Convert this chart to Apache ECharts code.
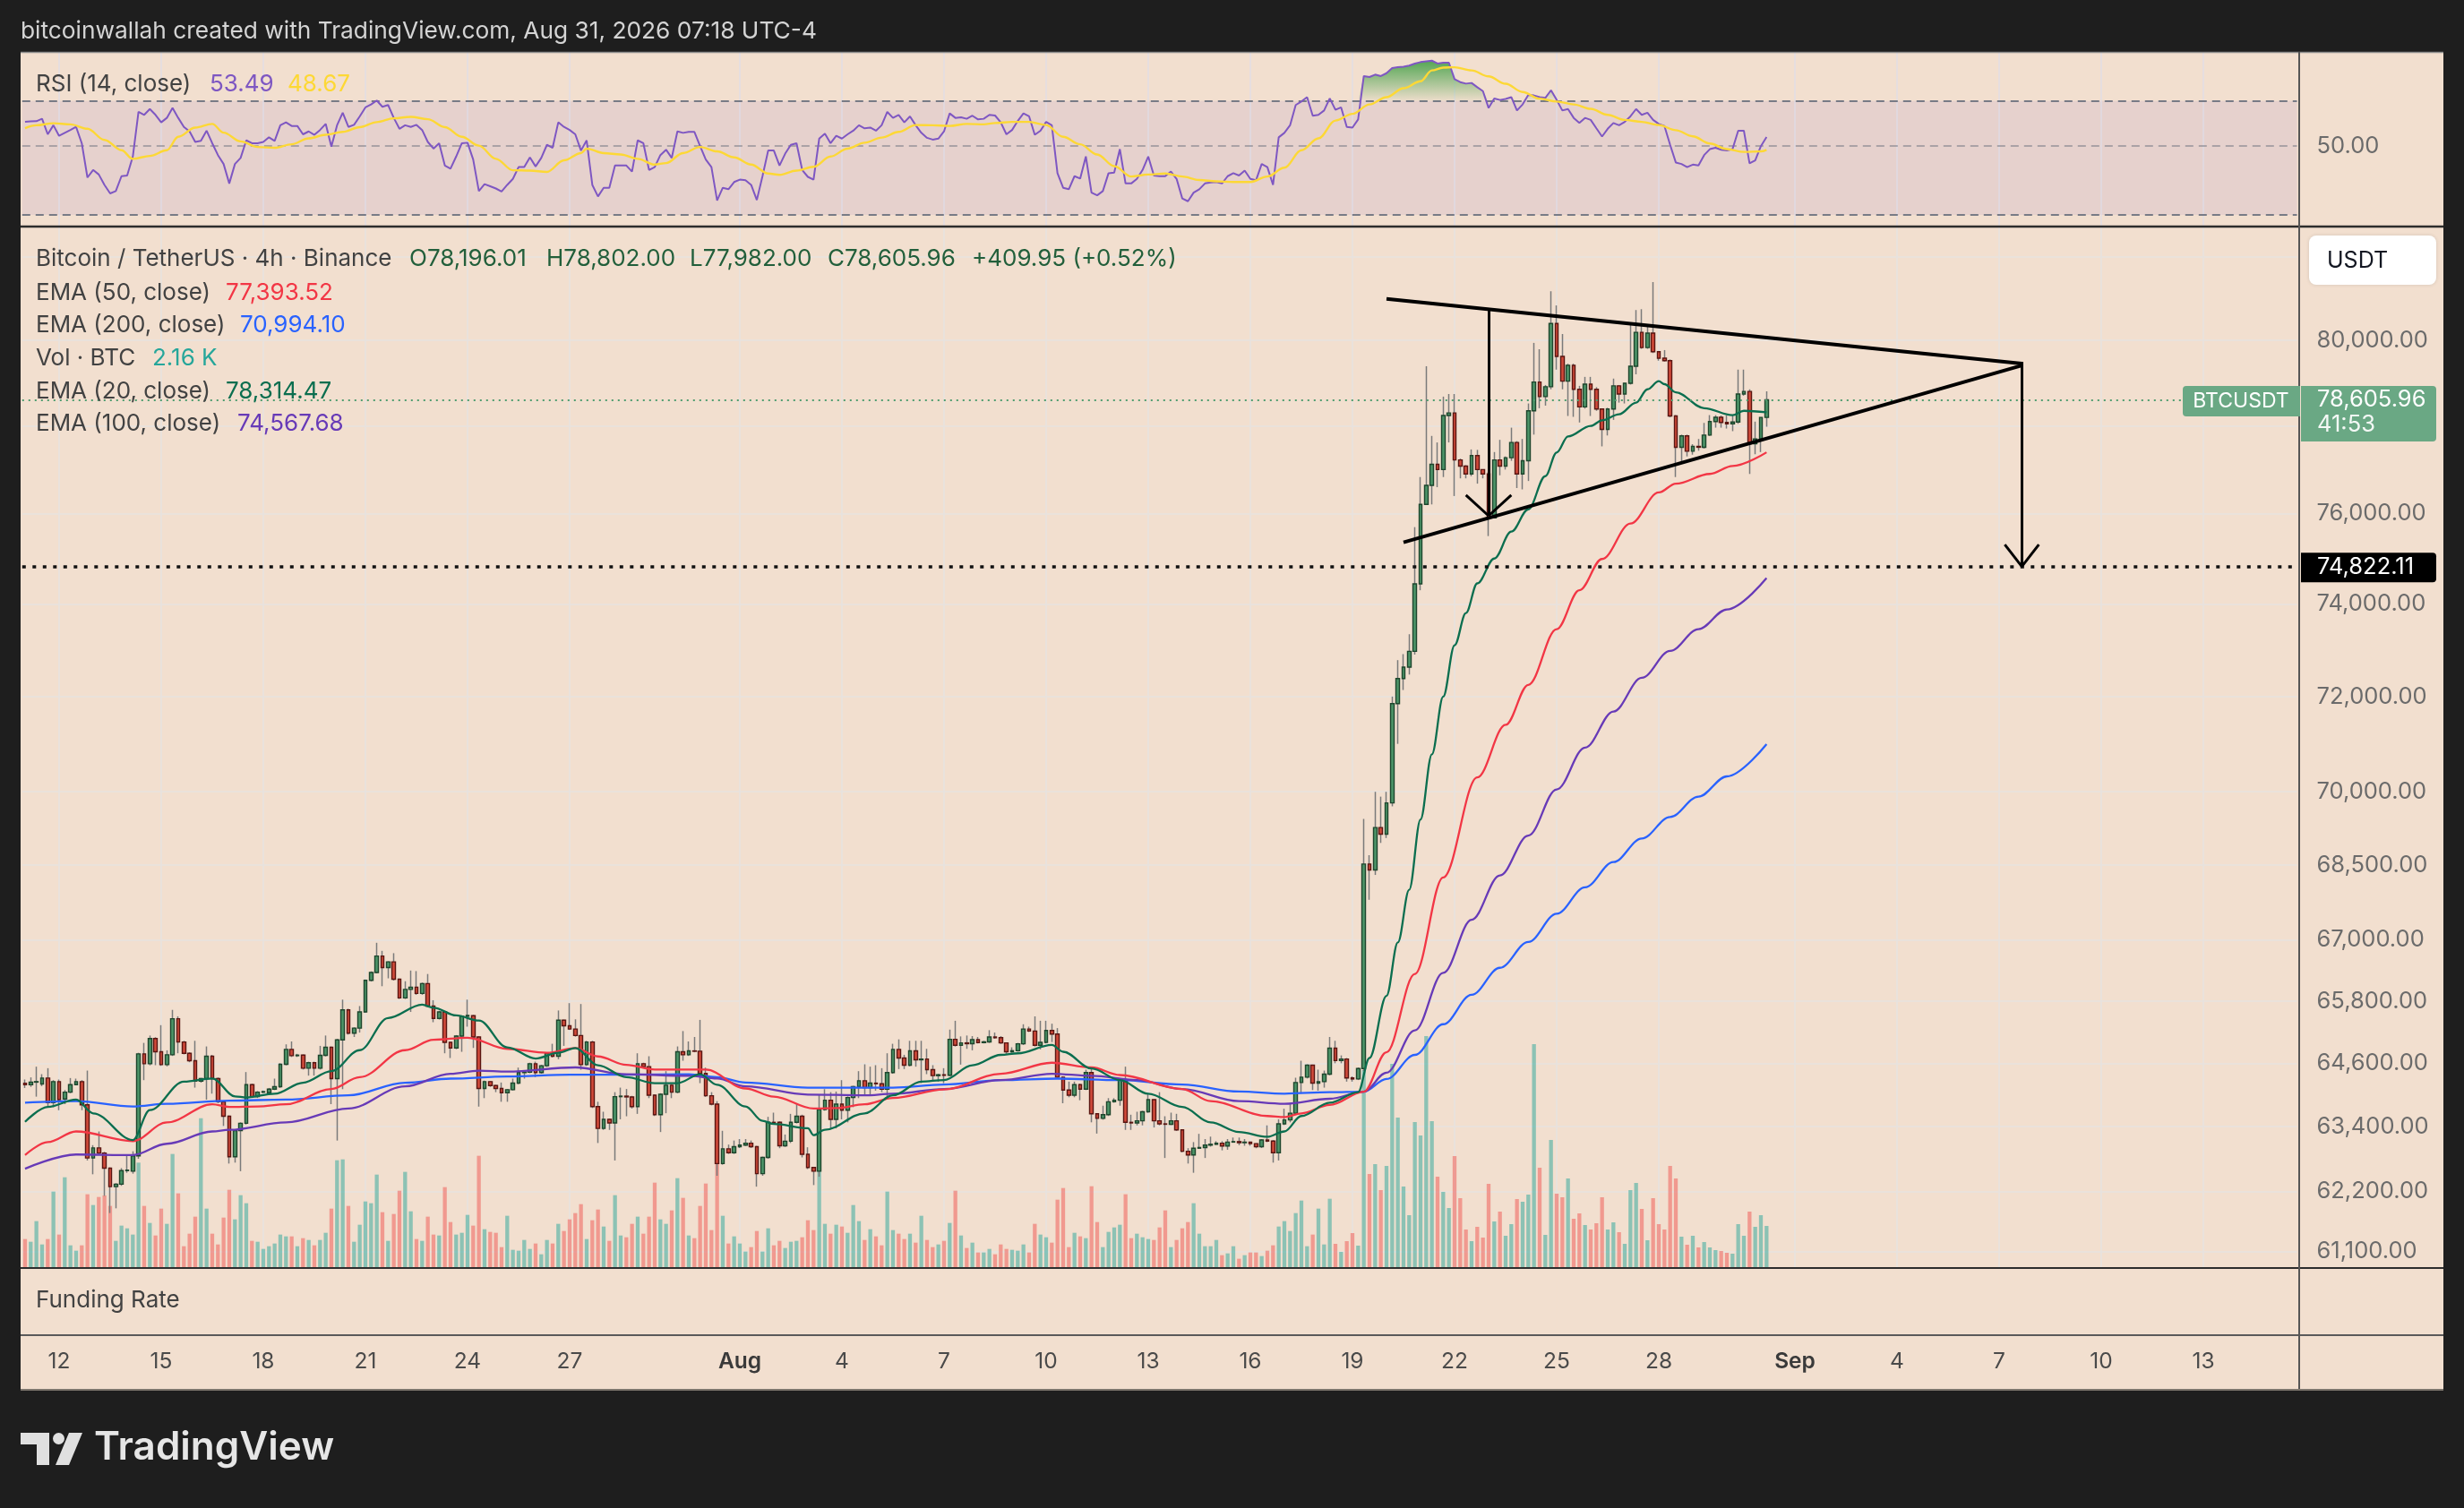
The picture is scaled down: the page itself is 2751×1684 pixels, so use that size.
<!DOCTYPE html>
<html><head><meta charset="utf-8">
<script src="https://cdn.jsdelivr.net/npm/echarts@6/dist/echarts.min.js"></script>
<style>html,body{margin:0;padding:0;background:#1e1e1e;}#c{width:2751px;height:1684px;}</style>
</head><body><div id="c"></div>
<script>
// ---------------- DATA ----------------
const startUTC = Date.UTC(2026, 6, 11, 0, 0); // first 4h candle
const slotCount = 401;                          // candle slots incl. empty future space
const xTickLabels = [['07-12','12'],['07-15','15'],['07-18','18'],['07-21','21'],['07-24','24'],['07-27','27'],
  ['08-01','Aug'],['08-04','4'],['08-07','7'],['08-10','10'],['08-13','13'],['08-16','16'],['08-19','19'],
  ['08-22','22'],['08-25','25'],['08-28','28'],['09-01','Sep'],['09-04','4'],['09-07','7'],['09-10','10'],['09-13','13']];
const priceTicks = [61100,62200,63400,64600,65800,67000,68500,70000,72000,74000,76000,80000];
const priceGridLines = [61100,62200,63400,64600,65800,67000,68500,70000,72000,74000,76000,78000,80000,82000];
const rsiLevels = [70, 50, 30];

const opens = [64220,64190,64240,64204,64318,63851,64250,63920,64050,64193,
64250,63811,62815,63003,62906,62627,62285,62331,62581,62570,
62855,64779,64591,65075,64819,64574,64762,65457,65007,64791,
64648,64261,64307,64734,64307,63868,63595,62838,63327,63464,
64193,63965,64050,64040,64107,64153,64580,64865,64745,64755,
64506,64609,64506,64751,64905,64307,65047,65628,65178,65275,
65588,66203,66357,66681,66453,66567,66226,65861,66026,66070,
65947,66140,65702,65463,65588,65001,64893,65121,65503,65515,
65104,64119,64250,64176,64119,64040,64096,64221,64421,64430,
64591,64421,64552,64791,64734,65428,65320,65258,65132,64574,
65007,63777,63367,63538,63470,63965,63975,63960,63777,64591,
64535,63993,63624,64011,64181,64050,64819,64762,64836,64830,
64404,63982,63823,62712,62986,62912,63026,63055,63090,63026,
62524,62826,63481,63481,63043,63128,63481,63595,62883,62638,
62570,63720,63897,63538,63823,63709,63948,64153,64267,64136,
64221,64210,64107,64421,64865,64700,64563,64836,64666,64680,
64478,64364,64380,64370,65058,64944,64990,64975,65053,64996,
65010,65104,65090,64990,64819,64840,64973,65258,65218,64944,
65001,65229,65161,64335,64090,63993,64193,64107,64421,63641,
63555,63624,63868,63897,64278,63481,63470,63510,63680,63908,
63510,63452,63445,63510,63339,62940,62872,62997,63010,63054,
63070,63090,63037,63111,63120,63100,63110,63082,63026,63151,
63130,62912,63452,63527,63652,64233,64335,64563,64221,64250,
64392,64888,64650,64680,64320,64300,64500,68520,68400,69265,
69130,69770,71850,72385,72630,72970,74440,76210,76640,77120,
77000,78240,78300,77220,77080,76900,77320,77000,76900,75910,
77220,77080,77270,77620,76900,77200,78350,79020,78680,78910,
80400,79620,79040,79410,78850,78440,78970,78850,78390,77920,
78390,78930,78740,78990,79390,80190,79830,80170,79730,79580,
79520,78230,77510,77770,77420,77530,77510,77790,78100,78200,
78080,78050,78090,78740,78800,77590,77700,78196.01];

const highs = [64290,64330,64535,64392,64506,64278,64290,64090,64318,64307,
64278,64460,63054,63310,62930,62640,62350,62627,62883,62940,
64800,64990,65132,65100,65332,64848,65628,65503,65030,64810,
65030,64320,64922,64760,64330,63890,63610,63340,63480,64432,
64210,64070,64080,64130,64307,64600,64962,65018,64780,64770,
64630,64630,64933,65132,64920,65070,65827,65650,65290,65702,
66220,66380,66943,66784,66580,66738,66240,66186,66396,66385,
66160,66328,65816,65610,65600,65010,65140,65520,65827,65530,
65120,64270,64260,64190,64233,64110,64307,64517,64450,64610,
64631,64570,64810,64973,65616,65440,65759,65445,65742,65030,
65030,63868,63680,63550,64050,64136,64110,63980,64791,64610,
64734,64010,64030,64449,64200,64922,65218,65018,65104,65434,
64517,64050,63880,63322,63065,63140,63168,63168,63140,63040,
62840,63584,63663,63500,63253,63640,63834,63624,63014,62650,
64005,64107,64050,64062,64278,63970,64170,64449,64580,64535,
64563,64506,64791,64973,65058,64762,65030,65030,65030,64876,
64563,64400,64506,65246,65417,65115,65132,65121,65104,65030,
65235,65189,65121,65000,64905,64990,65349,65303,65502,65417,
65417,65360,65275,64350,64250,64250,64210,64478,64535,63650,
63794,63937,63937,64300,64535,63624,63680,63697,64022,63920,
64050,63595,63663,63641,63350,62997,63111,63265,63168,63213,
63128,63128,63168,63196,63196,63168,63120,63090,63168,63424,
63150,63538,63737,63823,64324,64648,64580,64574,64478,64460,
65104,65030,64750,64700,64350,64520,69440,68700,70000,69900,
70000,72000,72780,72910,73340,75700,76830,79390,77770,77620,
78680,78740,78740,77250,77100,77460,77450,77000,76950,77400,
77680,77300,77960,77650,77700,78520,79940,79790,78950,81170,
80830,80150,79450,79450,78930,79140,79140,78900,78400,78420,
79100,78950,79000,80420,80720,80740,80320,81390,79750,79770,
79550,78250,77800,77800,77580,77700,78070,78250,78250,78240,
78240,78240,79310,79310,78850,78100,78150,78802];

const lows = [64130,64150,63965,64164,63766,63766,63709,63823,64030,64180,
63709,62769,62513,62880,62115,61801,61887,62300,62540,62524,
62800,64278,64560,64563,64550,64540,64740,64791,64770,64620,
64136,64230,63908,64022,63840,63413,62712,62729,62570,63440,
63940,63940,64030,64020,64090,64130,64560,64720,64720,64480,
64364,64364,64480,64730,63823,63140,64107,65150,65104,65189,
65570,66180,66340,66089,66243,66200,65840,65840,65588,65920,
65920,65680,65389,65440,64791,64700,64870,64819,65303,64893,
63777,63937,64150,64050,63868,63868,64080,64200,64307,64410,
64335,64400,64530,64710,64677,64933,65240,65110,64477,64550,
63750,63094,63340,63339,62769,63538,63595,63740,63640,64510,
63937,63600,63299,63652,63937,64030,64648,64740,64810,64221,
63960,63800,62485,62690,62890,62890,63000,63040,63000,62285,
62485,62800,63440,62997,63020,63094,63460,62826,62610,62314,
62468,63700,63367,63367,63538,63481,63766,63937,63993,64005,
64079,64050,63937,64400,64489,64489,64540,64535,64221,64392,
64250,64250,64221,64350,64920,64574,64876,64848,64980,64980,
64990,65070,64970,64779,64800,64820,64950,65200,64920,64865,
64980,65007,64320,63840,63954,63954,63897,64090,63481,63270,
63530,63600,63850,63794,63339,63339,63424,63424,63660,63384,
63424,62815,63430,63320,62920,62712,62541,62990,62815,63026,
63060,62957,62968,63100,63054,63043,63043,62997,63000,63110,
62729,62769,63430,63481,63630,64022,64310,64090,64079,64136,
64370,64600,64600,64250,64250,64280,64450,67800,68300,68950,
69050,69700,71000,72140,72470,72900,74300,76200,76210,76600,
76830,77620,76400,76800,76800,76850,76680,76800,75500,75900,
76870,77000,77200,76580,76550,76740,77800,78410,78470,78850,
79310,78850,78230,78210,78080,78400,78230,78350,77530,77780,
78140,78540,78520,78960,79200,79800,79800,79700,79520,79500,
78200,76830,77180,77300,77340,77430,77480,77770,77960,77960,
77940,77880,78050,78700,76900,77350,77400,77982];

const closes = [64190,64240,64250,64318,63851,64250,63908,64050,64193,64250,
63811,62815,63003,62906,62627,62285,62331,62581,62590,62855,
64779,64591,65075,64819,64574,64762,65457,65007,64791,64648,
64261,64307,64734,64307,63868,63595,62838,63327,63464,64193,
63965,64050,64060,64107,64153,64580,64865,64745,64755,64506,
64609,64506,64751,64905,64307,65047,65628,65178,65275,65588,
66203,66357,66681,66453,66567,66226,65861,66026,66070,65947,
66140,65702,65463,65588,65001,64893,65121,65503,65520,65104,
64119,64250,64176,64119,64040,64096,64221,64421,64430,64591,
64421,64552,64791,64734,65428,65320,65258,65132,64574,65007,
63777,63367,63538,63470,63965,63975,63960,63777,64591,64535,
63993,63624,64011,64181,64050,64819,64762,64836,64830,64404,
63982,63823,62712,62986,62912,63026,63055,63090,63026,62524,
62826,63481,63470,63043,63128,63481,63595,62883,62638,62570,
63720,63897,63538,63823,63709,63948,64153,64267,64136,64221,
64210,64107,64421,64865,64700,64563,64836,64666,64680,64478,
64364,64380,64370,65058,64944,64990,64975,65053,64996,65010,
65104,65090,64990,64819,64840,64973,65258,65218,64944,65001,
65229,65161,64335,64090,63993,64193,64107,64421,63641,63555,
63624,63868,63897,64278,63481,63470,63510,63680,63908,63510,
63452,63445,63510,63339,62940,62872,62997,63010,63054,63070,
63090,63037,63111,63120,63100,63110,63082,63026,63151,63130,
62912,63452,63527,63652,64233,64335,64563,64221,64250,64392,
64888,64650,64680,64320,64300,64500,68520,68400,69265,69130,
69770,71850,72385,72630,72970,74440,76210,76640,77120,77000,
78240,78300,77220,77080,76900,77320,77000,76900,75910,77220,
77080,77270,77620,76900,77200,78350,79020,78680,78910,80400,
79620,79040,79410,78850,78440,78970,78850,78390,77920,78390,
78930,78740,78990,79390,80190,79830,80170,79730,79580,79520,
78230,77510,77770,77420,77530,77510,77790,78100,78200,78080,
78050,78090,78740,78800,77590,77700,78196.01,78605.96];

const volumes = [1166,1054,1910,942,1166,3137,1352,3732,905,682,
905,3026,2579,2914,2976,2542,1091,1724,1612,1352,
4340,2542,1835,1314,2430,1798,4700,3063,868,1389,
2096,6188,2430,1389,942,2058,3212,1984,2988,2654,
1091,1054,756,868,980,1352,1277,1277,868,1203,
1128,905,1128,1426,2430,4439,4476,2542,1054,1761,
2728,2654,3844,2282,1091,2207,3174,3956,2319,1166,
1091,2096,1352,1314,3323,1872,1352,1426,2170,1724,
4625,1575,1463,1426,831,2133,719,682,1128,756,
980,533,1128,980,1798,1500,1984,2244,2616,1166,
1947,2393,1686,1091,2988,1314,1240,1798,2096,1389,
2096,3509,1984,1798,2356,3695,2877,1314,1203,2542,
3472,1538,4300,2133,980,1277,980,645,831,1500,
645,1612,905,1091,794,1054,1091,1240,1947,1538,
4000,1798,1389,1761,1686,1426,2579,1910,1128,1575,
1277,905,3137,1538,1389,1166,1389,1017,2133,1128,
831,942,1091,1835,3174,1314,794,1017,608,608,
756,533,942,756,719,682,942,608,1798,1352,
1240,1017,2802,3286,831,1426,1277,1203,3360,1872,
831,1463,1649,1761,3026,1203,1389,1240,1166,1128,
1649,2356,831,1128,1612,1872,2654,1389,868,868,
1128,496,570,868,347,496,608,608,459,682,
905,1686,1910,1500,2244,2765,868,1352,2430,942,
2840,967,632,1079,1414,893,8184,3869,4278,3200,
4204,8444,6212,3348,2158,6026,5468,9598,6064,3757,
3125,2455,4613,2864,1562,1079,1674,1228,3460,1897,
2306,1302,1786,2827,2716,3013,9263,4129,1339,5282,
3050,2902,3683,2009,2232,1748,1562,1823,2902,1562,
1860,1451,967,3199,3497,2418,1116,2864,1786,1562,
4204,3683,1265,930,1302,818,1042,818,707,670,
595,558,1786,1302,2306,1674,2158,1711];

const ema20 = [[0,63490],[4,63770],[9,63910],[12,63650],[19,63150],[22,63710],[28,64250],[33,64310],[37,63970],[39,63950],[44,64020],[49,64230],[54,64450],[59,64850],[64,65470],[70,65730],[72,65670],[76,65520],[80,65420],[85,64905],[90,64690],[94,64800],[97,64890],[101,64560],[106,64335],[111,64220],[115,64220],[119,64390],[122,64190],[127,63780],[130,63510],[132,63450],[138,63370],[139,63240],[141,63340],[148,63650],[153,63990],[158,64250],[162,64280],[167,64560],[172,64760],[175,64790],[181,64950],[183,64820],[188,64500],[193,64280],[198,64020],[204,63770],[209,63480],[214,63300],[219,63210],[222,63310],[225,63600],[230,63850],[235,64050],[237,64700],[240,65900],[242,66950],[244,68000],[246,69430],[248,70780],[250,72000],[252,73100],[254,73800],[256,74450],[259,75000],[262,75600],[265,76100],[268,76850],[270,77390],[272,77760],[276,78000],[278,78130],[281,78270],[284,78540],[286,78850],[288,79040],[289,78970],[291,78780],[296,78410],[301,78250],[303,78350],[307,78314.47]];
const ema50 = [[0,62870],[4,63110],[9,63310],[19,63130],[25,63480],[33,63820],[36,63770],[41,63780],[46,63820],[54,64110],[59,64335],[67,64850],[72,65050],[78,65090],[85,64876],[92,64800],[97,64890],[101,64730],[106,64570],[111,64480],[120,64480],[127,64120],[132,63965],[139,63740],[143,63750],[148,63820],[153,63940],[162,64100],[172,64400],[181,64610],[188,64520],[193,64375],[204,64110],[209,63880],[219,63600],[222,63580],[225,63650],[230,63810],[236,64060],[240,64810],[245,66330],[250,68250],[256,70300],[261,71400],[265,72250],[270,73450],[274,74300],[278,74990],[283,75780],[288,76480],[291,76680],[297,76900],[301,77080],[307,77393.52]];
const ema100 = [[0,62616],[9,62880],[19,62870],[25,63080],[33,63310],[36,63340],[46,63480],[57,63740],[67,64160],[75,64400],[80,64460],[85,64440],[97,64520],[106,64390],[117,64360],[122,64310],[127,64160],[138,64005],[148,63990],[153,64020],[162,64110],[172,64280],[181,64400],[188,64360],[196,64280],[204,64110],[214,63880],[222,63830],[230,63925],[236,64060],[240,64420],[245,65230],[250,66350],[255,67400],[260,68290],[265,69100],[270,70050],[275,70920],[280,71680],[285,72400],[290,72980],[295,73450],[300,73880],[307,74567.68]];
const ema200 = [[0,63850],[9,63880],[19,63780],[25,63830],[36,63890],[46,63910],[57,63990],[67,64230],[75,64307],[85,64347],[96,64380],[106,64380],[117,64390],[122,64335],[127,64233],[138,64136],[153,64136],[162,64193],[172,64278],[182,64307],[193,64278],[204,64193],[214,64062],[222,64022],[230,64050],[236,64060],[240,64300],[245,64760],[250,65350],[255,65920],[260,66450],[265,66960],[270,67520],[275,68050],[280,68560],[285,69040],[290,69480],[295,69900],[300,70320],[307,70994.10]];

const rsi = [59.9,60.1,60.2,61.3,54.6,58.4,54.0,55.2,56.4,57.7,
51.1,39.6,41.9,40.5,37.5,35.2,35.8,40.0,40.2,46.3,
64.5,63.1,65.9,63.1,59.7,61.7,66.4,61.7,57.7,55.8,
51.6,52.0,56.1,51.1,46.8,43.8,37.9,43.8,45.8,52.2,
51.1,51.1,51.6,53.4,52.0,58.4,59.7,58.1,58.1,54.6,
55.8,54.4,56.4,59.0,49.8,58.4,64.1,57.7,58.6,62.4,
66.7,68.2,70.2,67.0,67.9,61.7,56.9,58.4,57.7,58.6,
56.4,51.6,49.1,51.1,43.3,42.3,46.3,51.1,51.3,45.3,
35.8,37.7,37.1,36.5,35.7,37.5,39.2,42.8,42.8,46.0,
43.0,45.8,50.5,49.4,59.7,57.7,56.4,54.6,48.4,52.2,
37.5,34.4,36.7,36.7,43.3,43.3,43.3,41.4,52.2,51.1,
41.9,42.8,46.8,48.7,45.8,55.8,55.2,55.6,55.6,50.0,
45.3,42.8,33.4,36.7,36.3,38.3,39.0,38.8,37.5,33.5,
40.0,48.4,48.4,43.3,47.3,50.5,51.1,41.9,39.8,39.0,
52.9,54.9,51.1,54.0,52.9,54.6,56.1,58.4,57.1,57.4,
56.1,58.4,64.5,61.7,63.1,59.7,62.4,58.4,55.2,53.2,
52.5,52.9,55.8,63.8,61.7,62.0,61.3,62.7,61.0,61.3,
63.1,62.8,59.7,54.6,56.4,60.3,63.8,62.4,54.4,56.1,
59.9,58.4,40.9,36.7,36.3,40.0,39.3,46.3,35.4,34.7,
35.8,40.9,41.1,48.9,37.9,37.9,39.2,41.9,46.3,40.2,
40.0,40.0,41.4,39.2,33.9,33.2,35.4,36.3,37.9,38.2,
38.3,37.9,40.0,40.9,40.2,41.7,39.2,38.8,43.8,42.8,
37.5,53.4,55.2,58.4,67.9,69.7,72.0,62.7,63.1,65.2,
71.3,65.5,66.7,57.7,57.4,61.0,84.2,83.6,85.1,84.2,
86.0,89.4,90.0,90.2,91.0,92.4,93.4,94.0,94.4,92.4,
93.0,93.0,82.3,80.5,79.6,80.0,77.5,75.3,66.4,71.3,
70.5,71.0,72.0,65.2,68.2,73.2,72.9,72.0,71.6,75.8,
70.5,65.2,65.9,61.7,59.4,61.7,60.8,57.1,53.7,56.9,
59.4,58.4,59.9,62.4,65.9,63.1,64.1,60.8,59.0,58.1,
50.5,44.3,43.8,42.8,43.6,43.3,46.8,48.9,49.4,48.7,
48.4,48.9,56.1,56.1,44.0,45.0,50.0,53.49];
const rsiMa = [[0,57.2],[2,58.4],[5,59.3],[8,58.8],[11,56.9],[14,52.4],[17,48.5],[19,45.5],[22,46.5],[25,48.5],[27,53.6],[30,57.4],[33,59.0],[35,55.3],[38,51.8],[41,49.7],[44,49.4],[47,50.7],[50,53.0],[53,54.4],[56,55.6],[59,57.6],[62,59.8],[65,61.5],[68,62.2],[71,61.1],[74,57.6],[77,53.6],[80,50.2],[83,45.5],[86,41.8],[89,41.7],[92,41.3],[95,45.0],[98,47.5],[99,49.1],[102,47.5],[105,47.0],[108,45.5],[111,43.6],[113,44.1],[116,47.5],[119,49.7],[122,48.1],[125,46.0],[128,43.6],[131,40.8],[133,40.4],[136,41.7],[139,42.9],[142,46.3],[145,49.1],[148,51.3],[151,53.3],[154,55.6],[157,58.5],[160,58.4],[163,58.1],[166,59.0],[169,58.8],[171,59.4],[174,59.9],[177,59.9],[180,58.5],[183,53.6],[186,50.7],[189,47.0],[192,43.1],[195,39.9],[198,40.5],[201,40.8],[204,39.9],[207,38.9],[210,38.5],[213,38.3],[216,38.3],[219,39.9],[222,42.6],[225,48.5],[228,53.0],[231,60.5],[234,63.6],[237,68.2],[240,72.0],[243,76.9],[246,81.0],[248,87.8],[250,89.7],[252,89.9],[255,87.8],[258,84.0],[261,79.5],[264,74.8],[267,71.2],[270,69.7],[273,68.2],[276,66.0],[279,63.1],[282,60.8],[285,59.9],[288,58.5],[291,56.3],[294,53.8],[297,51.0],[300,48.9],[303,47.9],[306,48.1],[307,48.67]];

// drawn annotations in data coordinates: [candle index, price]
const trendUpper = [[240,80989],[352,79451]];
const trendLower = [[243,75362],[352,79409]];
const poleLine = [[258,80705],[258,75954]];
const poleHeadL = [[254,76422],[258,75954]];
const poleHeadR = [[262,76422],[258,75954]];
const targetPrice = 74822.11;
const targetLine = [[352,79493],[352,targetPrice]];
const targetHeadL = [[349,75310],[352,targetPrice]];
const targetHeadR = [[355,75310],[352,targetPrice]];

// ---------------- BUILD ----------------
const pad = n => String(n).padStart(2,'0');
const categories = [];
for (let i = 0; i < slotCount; i++) {
  const d = new Date(startUTC + i * 4 * 3600 * 1000);
  categories.push(pad(d.getUTCMonth()+1) + '-' + pad(d.getUTCDate()) + ' ' + pad(d.getUTCHours()));
}
const labelAt = {};
xTickLabels.forEach(([md, t]) => { const k = categories.indexOf(md + ' 00'); if (k >= 0) labelAt[k] = t; });
const tickIdx = Object.keys(labelAt).map(Number);

const FONT = 'Inter, "Noto Sans", sans-serif';
const BG = '#f2dfcf';
const GRIDC = '#e7e3df';
const fmt = v => { const s = v.toFixed(2).split('.'); return s[0].replace(/\B(?=(\d{3})+(?!\d))/g, ',') + '.' + s[1]; };

const n = closes.length;
const candleData = [], bodyData = [], volData = [];
for (let i = 0; i < n; i++) {
  const o = opens[i], c = closes[i];
  const h = Math.max(highs[i], o, c), l = Math.min(lows[i], o, c);
  candleData.push([o, c, l, h]);
  bodyData.push([o, c, Math.min(o, c), Math.max(o, c)]);
  volData.push({ value: volumes[i], itemStyle: { color: c >= o ? 'rgba(38,166,154,0.5)' : 'rgba(239,83,80,0.5)' } });
}
const obBase = rsi.map(() => 70);
const obFill = rsi.map(v => Math.max(v, 70) - 70);

const GL = 24.8, GW = 2539.7;
const lineMk = (pts, w) => [{ coord: pts[0], lineStyle: { width: w, color: '#000', type: 'solid' } }, { coord: pts[1] }];
const mkBase = { silent: true, symbol: ['none','none'], label: { show: false }, emphasis: { disabled: true }, animation: false };
const AXF = 25.5;

const chart = echarts.init(document.getElementById('c'), null, { renderer: 'canvas' });
const option = {
  animation: false,
  backgroundColor: '#1e1e1e',
  textStyle: { fontFamily: FONT },
  grid: [
    { left: GL, top: 59, width: GW, height: 193, outerBoundsMode: 'none' },
    { left: GL, top: 254, width: GW, height: 1161, outerBoundsMode: 'none' },
    { left: GL, top: 1417, width: GW, height: 73, outerBoundsMode: 'none' }
  ],
  xAxis: [0,1,2].map(g => ({
    type: 'category', gridIndex: g, data: categories, boundaryGap: true,
    axisLine: { show: false }, axisTick: { show: false }, splitLine: { show: false },
    axisLabel: g === 2 ? {
      show: true, margin: 18, fontSize: 24.5, color: '#4a4a4a', fontFamily: FONT,
      interval: (idx) => labelAt[idx] !== undefined,
      formatter: (val, idx) => { const t = labelAt[idx]; return /[A-Za-z]/.test(t) ? '{m|' + t + '}' : t; },
      rich: { m: { fontWeight: 600, fontSize: 24.5, color: '#3a3a3a', fontFamily: FONT } }
    } : { show: false }
  })),
  yAxis: [
    { type: 'log', gridIndex: 0, min: 27.69, max: 100.07, position: 'right',
      axisLine: { show: false }, axisTick: { show: false }, splitLine: { show: false },
      axisLabel: { customValues: [50], margin: 22, fontSize: AXF, color: '#6b6b6b', fontFamily: FONT, formatter: v => fmt(v) } },
    { type: 'log', gridIndex: 1, min: 60820, max: 82716, position: 'right',
      axisLine: { show: false }, axisTick: { show: false }, splitLine: { show: false },
      axisLabel: { customValues: priceTicks, margin: 22, fontSize: AXF, color: '#6b6b6b', fontFamily: FONT, formatter: v => fmt(v) } },
    { type: 'value', gridIndex: 1, min: 0, max: 43190, show: false, splitLine: { show: false } },
    { type: 'value', gridIndex: 2, show: false, splitLine: { show: false } }
  ],
  series: [
    // RSI pane grid, band and levels
    { type: 'line', xAxisIndex: 0, yAxisIndex: 0, data: [], silent: true,
      markArea: { silent: true, z: 1, itemStyle: { color: 'rgba(126,87,194,0.10)' }, data: [[{ yAxis: 30 }, { yAxis: 70 }]] },
      markLine: Object.assign({}, mkBase, { z: 2, data: [
        ...tickIdx.map(i => ({ xAxis: i, lineStyle: { color: 'rgba(222,222,235,0.75)', width: 1.5, type: 'solid' } })),
        ...rsiLevels.map(v => ({ yAxis: v, lineStyle: { color: v === 50 ? 'rgba(120,123,134,0.55)' : '#787b86', width: 2, type: [9, 6] } }))
      ] }) },
    { type: 'line', xAxisIndex: 0, yAxisIndex: 0, data: obBase, stack: 'ob', symbol: 'none', silent: true, z: 2,
      lineStyle: { width: 0, opacity: 0 } },
    { type: 'line', xAxisIndex: 0, yAxisIndex: 0, data: obFill, stack: 'ob', symbol: 'none', silent: true, z: 2,
      lineStyle: { width: 0, opacity: 0 },
      areaStyle: { opacity: 1, color: new echarts.graphic.LinearGradient(0, 0, 0, 1, [
        { offset: 0, color: 'rgba(67,160,71,0.9)' }, { offset: 1, color: 'rgba(67,160,71,0.03)' }]) } },
    { name: 'RSI', type: 'line', xAxisIndex: 0, yAxisIndex: 0, data: rsi, symbol: 'none', z: 3,
      lineStyle: { color: '#7e57c2', width: 2 } },
    { name: 'RSI MA', type: 'line', xAxisIndex: 0, yAxisIndex: 0, data: rsiMa, symbol: 'none', z: 3,
      smooth: 0.35, smoothMonotone: 'x', lineStyle: { color: '#fdd835', width: 2.4 } },

    // main pane grid lines
    { type: 'line', xAxisIndex: 1, yAxisIndex: 1, data: [], silent: true,
      markLine: Object.assign({}, mkBase, { z: 1, data: [
        ...priceGridLines.map(v => ({ yAxis: v, lineStyle: { color: GRIDC, width: 1.6, type: 'solid' } })),
        ...tickIdx.map(i => ({ xAxis: i, lineStyle: { color: GRIDC, width: 1.6, type: 'solid' } }))
      ] }) },
    { name: 'Vol', type: 'bar', xAxisIndex: 1, yAxisIndex: 2, data: volData, barWidth: 4.3, z: 2, silent: true },
    { type: 'candlestick', xAxisIndex: 1, yAxisIndex: 1, data: candleData, barWidth: 1, z: 3, silent: true, clip: false,
      itemStyle: { color: '#7a7a7a', color0: '#7a7a7a', borderColor: '#7a7a7a', borderColor0: '#7a7a7a', borderColorDoji: '#7a7a7a', borderWidth: 1.5 } },
    { type: 'candlestick', xAxisIndex: 1, yAxisIndex: 1, data: bodyData, barWidth: 4.2, z: 4, silent: true, clip: false,
      itemStyle: { color: '#4c9468', color0: '#d04a3a', borderColor: '#1e462d', borderColor0: '#5a1612', borderColorDoji: '#3a2a20', borderWidth: 1.4 } },
    ...[[ema200, '#2962ff'], [ema100, '#673ab7'], [ema50, '#f23645'], [ema20, '#0b6e4f']].map(([d, col]) => ({
      type: 'line', xAxisIndex: 1, yAxisIndex: 1, data: d, symbol: 'none', z: 5, silent: true,
      smooth: 0.35, smoothMonotone: 'x', lineStyle: { color: col, width: 2.3 }
    })),
    // drawings
    { type: 'line', xAxisIndex: 1, yAxisIndex: 1, data: [], silent: true,
      markLine: Object.assign({}, mkBase, { z: 10, data: [
        { yAxis: closes[n-1], lineStyle: { color: '#4f9d70', width: 1.8, type: [2, 5] } },
        { yAxis: targetPrice, lineStyle: { color: '#111', width: 3.5, type: [4, 7.5] } },
        lineMk(trendUpper, 4), lineMk(trendLower, 4),
        lineMk(poleLine, 3), lineMk(poleHeadL, 3), lineMk(poleHeadR, 3),
        lineMk(targetLine, 3), lineMk(targetHeadL, 3), lineMk(targetHeadR, 3)
      ] }) }
  ]
};
chart.setOption(option);

// ---------------- OVERLAY TEXT / FRAME ----------------
const yCur = chart.convertToPixel({ yAxisIndex: 1 }, closes[n-1]);
const yTgt = chart.convertToPixel({ yAxisIndex: 1 }, targetPrice);
const lastO = opens[n-1], lastH = highs[n-1], lastL = lows[n-1], lastC = closes[n-1];
const chg = lastC - closes[n-2];
const pct = chg / closes[n-2] * 100;
const lastOf = a => a[a.length-1][1];
const T = (x, y, text, fill, size, extra) => ({ type: 'text', x, y, z: 50, silent: true,
  style: Object.assign({ text, fill, font: (extra && extra.weight ? extra.weight + ' ' : '') + size + 'px ' + FONT, textVerticalAlign: 'middle', textAlign: 'left' }, extra && extra.style) });
const HL = (x1, y1, x2, y2, stroke, w) => ({ type: 'line', z: 40, silent: true, shape: { x1, y1, x2, y2 }, style: { stroke, lineWidth: w } });
const TXT = '#424242';
const UP = '#225f3b';
const LF = 26;

const graphics = [
  { type: 'rect', z: -100, silent: true, shape: { x: 23, y: 58, width: 2705, height: 1494 }, style: { fill: BG } },
  HL(23, 58.5, 2728, 58.5, '#8e8e8e', 1.5),
  HL(23, 253, 2728, 253, '#2d2d2d', 2.5),
  HL(23, 1416, 2728, 1416, '#2d2d2d', 2),
  HL(23, 1491, 2728, 1491, '#5a5a5a', 2),
  HL(2567, 58, 2567, 1552, '#555555', 2),
  HL(23, 1552, 2728, 1552, '#7d766d', 2),
  T(23, 35, 'bitcoinwallah created with TradingView.com, Aug 31, 2026 07:18 UTC-4', '#d4d4d4', 26.3),
  T(40, 94, 'RSI (14, close)', TXT, LF), T(234, 94, fmt(rsi[n-1]), '#7e57c2', LF), T(321, 94, fmt(lastOf(rsiMa)), '#fdd835', LF),
  T(40, 289, 'Bitcoin / TetherUS · 4h · Binance', TXT, LF),
  T(457, 289, 'O' + fmt(lastO), UP, LF), T(610, 289, 'H' + fmt(lastH), UP, LF),
  T(770, 289, 'L' + fmt(lastL), UP, LF), T(924, 289, 'C' + fmt(lastC), UP, LF),
  T(1085, 289, (chg >= 0 ? '+' : '') + fmt(chg) + ' (' + (pct >= 0 ? '+' : '') + pct.toFixed(2) + '%)', UP, LF),
  T(40, 327, 'EMA (50, close)', TXT, LF), T(252, 327, fmt(lastOf(ema50)), '#f23645', LF),
  T(40, 363, 'EMA (200, close)', TXT, LF), T(268, 363, fmt(lastOf(ema200)), '#2962ff', LF),
  T(40, 400, 'Vol · BTC', TXT, LF), T(170, 400, '2.16 K', '#26a69a', LF),
  T(40, 437, 'EMA (20, close)', TXT, LF), T(252, 437, fmt(lastOf(ema20)), '#0b6e4f', LF),
  T(40, 473, 'EMA (100, close)', TXT, LF), T(265, 473, fmt(lastOf(ema100)), '#673ab7', LF),
  T(40, 1452, 'Funding Rate', TXT, LF),
  // price-axis boxes
  { type: 'rect', z: 45, silent: true, shape: { x: 2578, y: 263, width: 142, height: 55, r: 8 },
    style: { fill: '#ffffff', shadowBlur: 4, shadowColor: 'rgba(0,0,0,0.12)' } },
  T(2598, 291, 'USDT', '#131722', 25),
  { type: 'rect', z: 45, silent: true, shape: { x: 2437, y: yCur - 15.5, width: 131, height: 34, r: [4, 0, 0, 4] }, style: { fill: '#6aa884' } },
  T(2502, yCur + 2, 'BTCUSDT', '#ffffff', 23, { style: { textAlign: 'center' } }),
  { type: 'rect', z: 45, silent: true, shape: { x: 2569, y: yCur - 15.5, width: 151, height: 62, r: [0, 4, 4, 0] }, style: { fill: '#6aa884' } },
  T(2587, yCur, fmt(lastC), '#ffffff', AXF),
  T(2587, yCur + 28, '41:53', 'rgba(255,255,255,0.92)', AXF),
  { type: 'rect', z: 45, silent: true, shape: { x: 2569, y: yTgt - 15.5, width: 151, height: 33, r: [0, 4, 4, 0] }, style: { fill: '#000000' } },
  T(2587, yTgt + 1, fmt(targetPrice), '#ffffff', AXF),
  // logo
  { type: 'polygon', z: 50, silent: true, shape: { points: [[23,1600],[55,1600],[55,1636],[41,1636],[41,1613],[23,1613]] }, style: { fill: '#e0e0e0' } },
  { type: 'circle', z: 50, silent: true, shape: { cx: 65.5, cy: 1606.5, r: 6.5 }, style: { fill: '#e0e0e0' } },
  { type: 'polygon', z: 50, silent: true, shape: { points: [[77,1600],[92,1600],[77,1636],[62,1636]] }, style: { fill: '#e0e0e0' } },
  T(105, 1617, 'TradingView', '#e6e6e6', 44, { weight: 600 })
];
chart.setOption({ graphic: { elements: graphics } });
</script>
</body></html>
